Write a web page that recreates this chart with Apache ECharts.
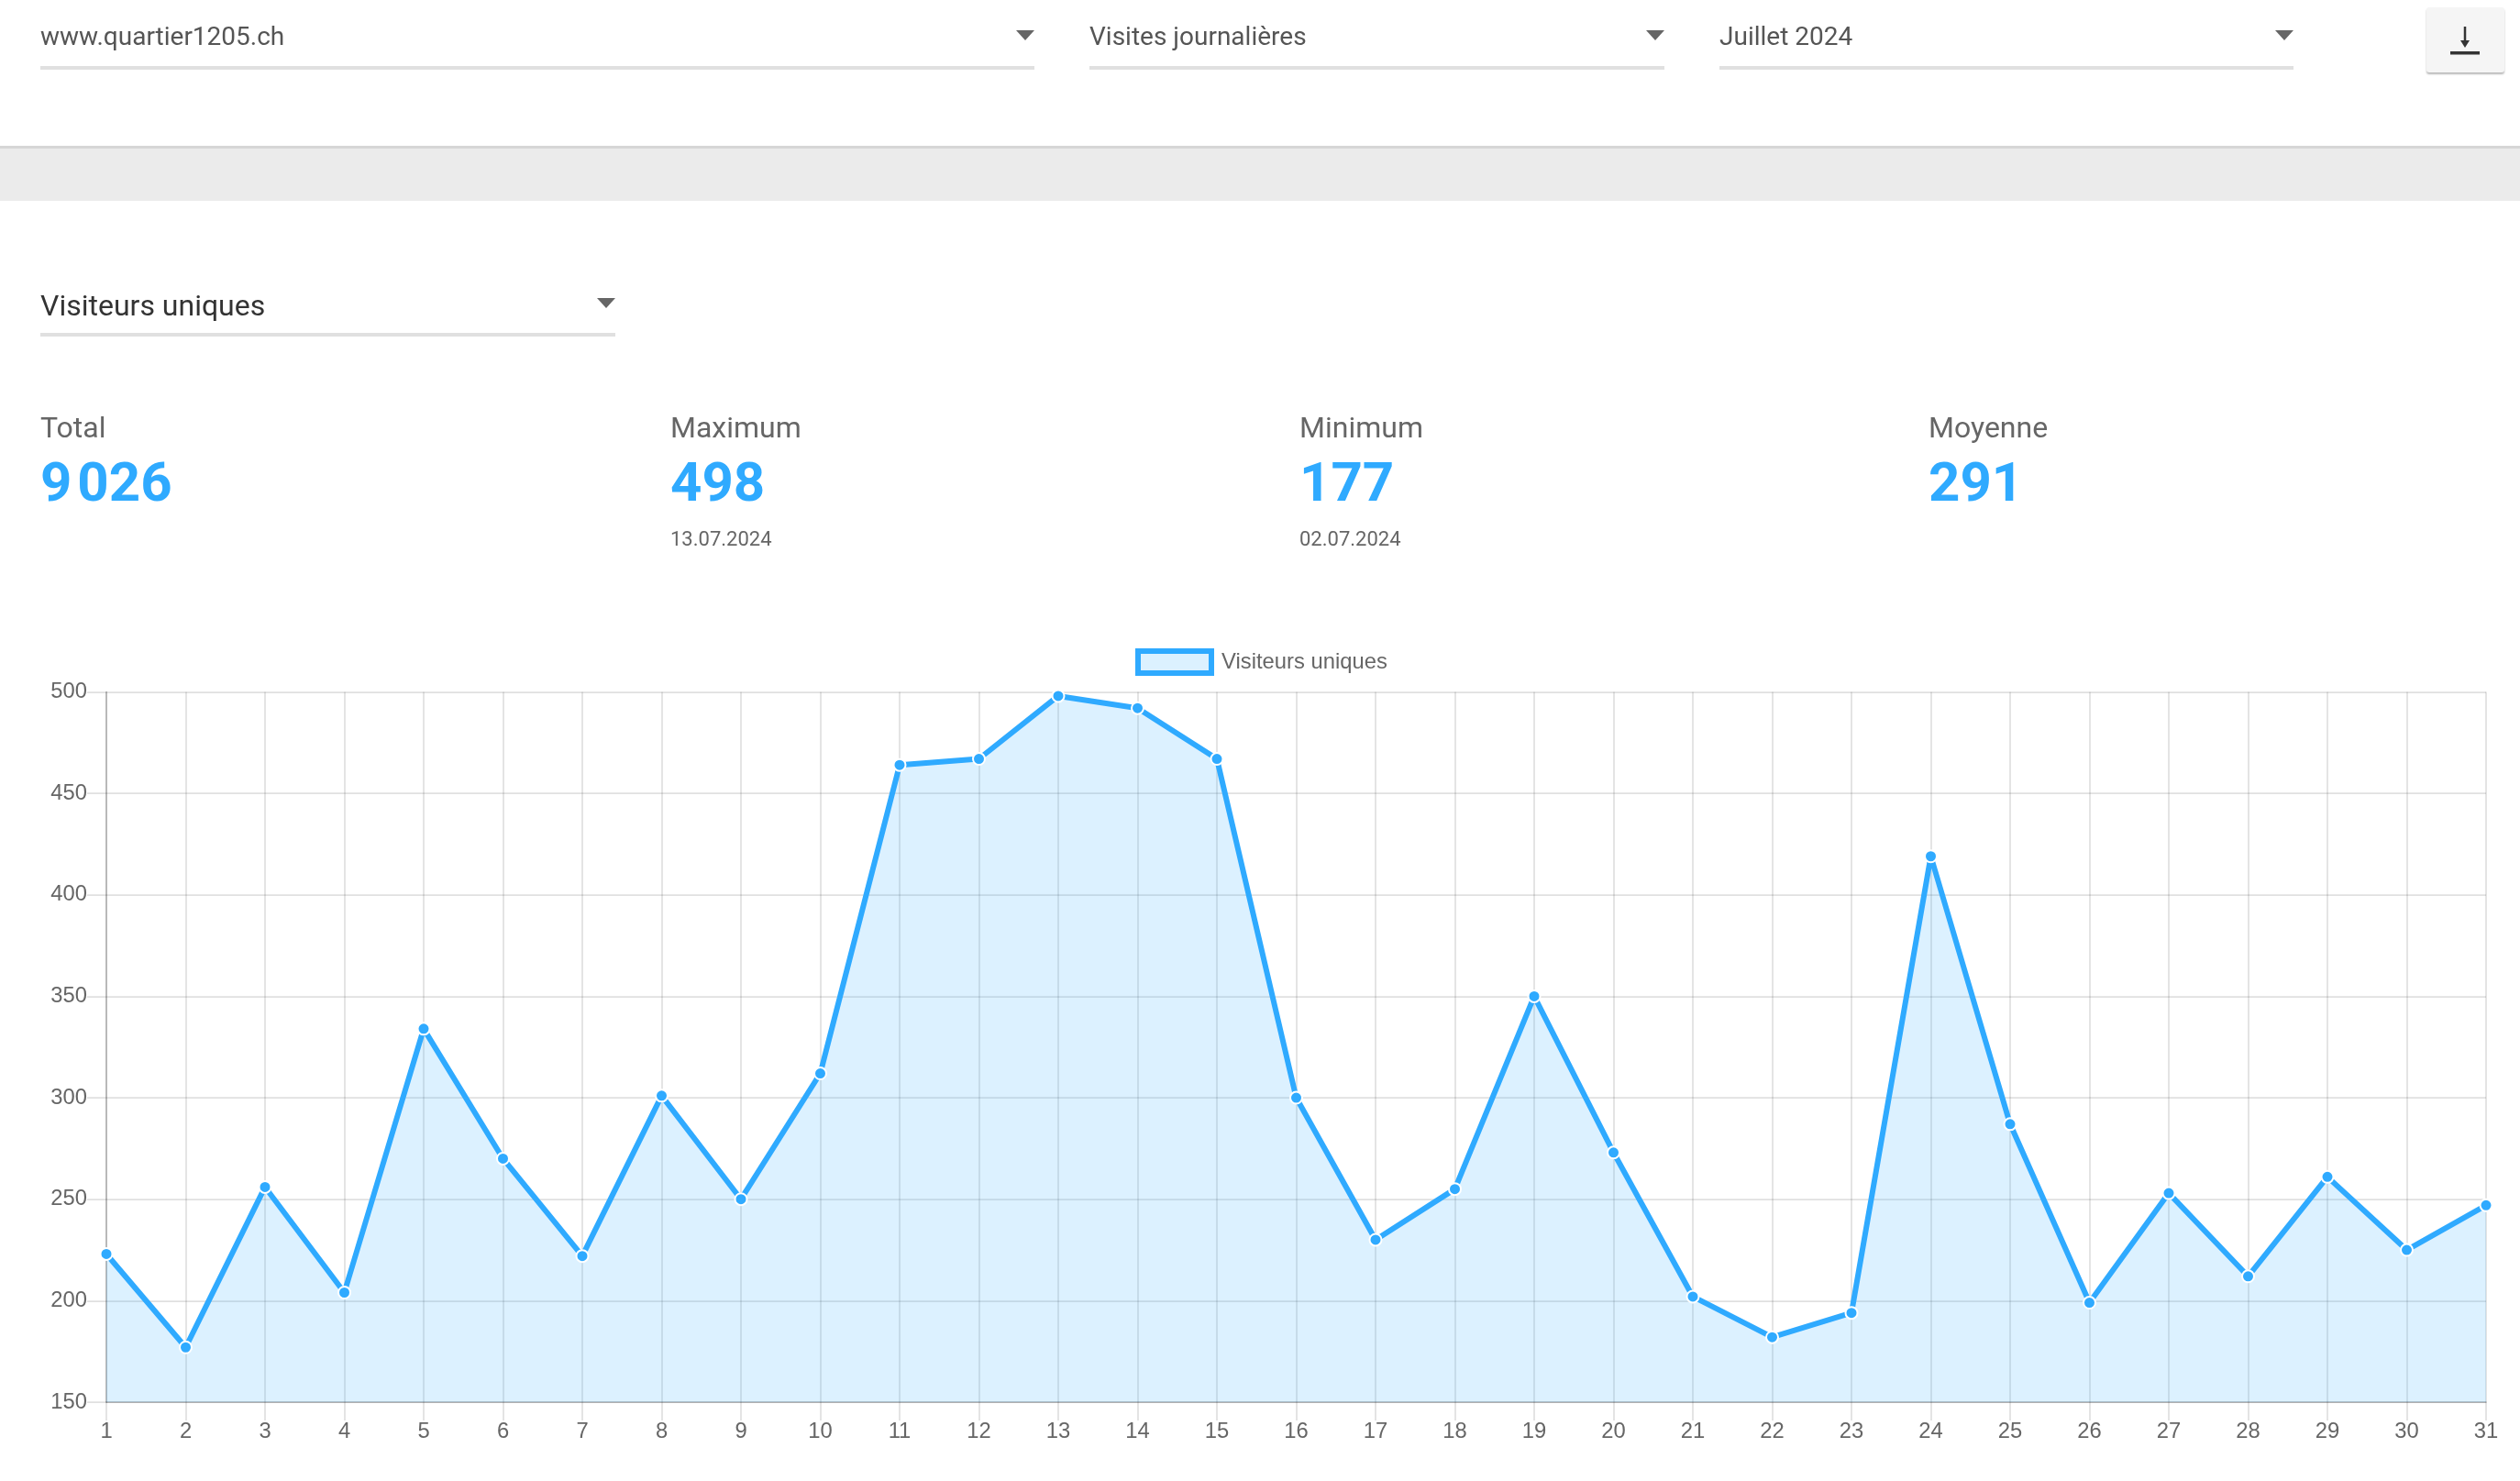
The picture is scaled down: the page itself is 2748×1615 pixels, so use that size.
<!DOCTYPE html>
<html lang="fr">
<head>
<meta charset="utf-8">
<title>Visiteurs uniques</title>
<script src="https://cdn.jsdelivr.net/npm/echarts@6/dist/echarts.min.js"></script>
<style>
html,body{margin:0;padding:0;width:2748px;height:1615px;overflow:hidden;background:#fff;font-family:Roboto,sans-serif}
#chart{position:absolute;left:0;top:0;width:2748px;height:1615px}
.t{position:absolute;white-space:pre;line-height:1}
.sel{position:absolute;height:4px;background:#e0e0e0}
.arrow{position:absolute;width:0;height:0;border-left:10px solid transparent;border-right:10px solid transparent;border-top:11px solid #666}
#band{position:absolute;left:0;top:159px;width:2748px;height:60px;background:#ebebeb;border-top:3px solid #d6d6d6;box-sizing:border-box}
#btn{position:absolute;left:2646px;top:8px;width:85px;height:71px;background:#f5f5f5;border-radius:3px;box-shadow:0 2px 2px rgba(0,0,0,.28)}
</style>
</head>
<body>
<div id="chart"></div>
<div id="ui"></div>
<script>
const seriesName = 'Visiteurs uniques';
const days = ['1','2','3','4','5','6','7','8','9','10','11','12','13','14','15','16','17','18','19','20','21','22','23','24','25','26','27','28','29','30','31'];
const visitors = [223,177,256,204,334,270,222,301,250,312,464,467,498,492,467,300,230,255,350,273,202,182,194,419,287,199,253,212,261,225,247];
const yMin = 150, yMax = 500, yStep = 50;
const topSelects = ['www.quartier1205.ch','Visites journalières','Juillet 2024'];
const kpiLabels = ['Total','Maximum','Minimum','Moyenne'];
const kpiValues = ['9 026','498','177','291'];
const kpiDates = ['','13.07.2024','02.07.2024',''];

const blue = '#2faaff', fill = 'rgba(47,170,255,0.17)', grid = 'rgba(0,0,0,0.12)', axis = 'rgba(0,0,0,0.22)', ink = '#666';

/* page furniture around the chart */
const ui = document.getElementById('ui');
function add(html){ ui.insertAdjacentHTML('beforeend', html); }
function text(x, cy, size, color, str, weight, extra){
  add(`<div class="t" style="left:${x}px;top:${cy-size/2}px;font-size:${size}px;color:${color};font-weight:${weight||400};${extra||''}">${str}</div>`);
}
function select(x0, x1, lineY, arrowY, size, color, str, cy){
  text(x0, cy, size, color, str);
  add(`<div class="sel" style="left:${x0}px;top:${lineY}px;width:${x1-x0}px"></div>`);
  add(`<div class="arrow" style="left:${x1-20}px;top:${arrowY}px"></div>`);
}
select(44,1128,72,33,28,'#555',topSelects[0],40);
select(1188,1815,72,33,28,'#555',topSelects[1],40);
select(1875,2501,72,33,28,'#555',topSelects[2],40);
select(44,671,363,325,32,'#333',seriesName,333);
add('<div id="band"></div>');
add(`<div id="btn"><svg width="85" height="71" style="position:absolute;left:0;top:0"><path d="M42 21V40" stroke="#333" stroke-width="2.5"/><path d="M37 36L42 44L47 36Z" fill="#333"/><rect x="26" y="48" width="32" height="3.500" fill="#333"/></svg></div>`);
[44,731,1417,2103].forEach((x,i)=>{
  text(x,466,32,'#666',kpiLabels[i]);
  text(x,526,60,blue,kpiValues[i],700,'word-spacing:-9px');
  if(kpiDates[i]) text(x,588,22,'#666',kpiDates[i]);
});

/* chart */
const chart = echarts.init(document.getElementById('chart'), null, {renderer:'canvas', width:2748, height:1615});
chart.setOption({
  animation:false,
  textStyle:{fontFamily:'"Liberation Sans",Arial,sans-serif'},
  legend:{
    left:1238, top:707, padding:0, itemWidth:80, itemHeight:24, selectedMode:false,
    data:[{name:seriesName, icon:'rect', itemStyle:{color:fill, borderColor:blue, borderWidth:6, opacity:1}}],
    textStyle:{fontSize:23.8, color:ink, fontFamily:'"Liberation Sans",Arial,sans-serif', padding:[0,0,0,6]}
  },
  grid:{left:116, right:37, top:754.5, height:774.5, containLabel:false},
  xAxis:{
    type:'category', data:days, boundaryGap:false,
    axisLine:{lineStyle:{color:axis,width:1.75}},
    axisTick:{show:true,length:20,interval:0,lineStyle:{color:grid,width:1.75}},
    axisLabel:{interval:0,margin:20,fontSize:23.8,color:ink},
    splitLine:{show:true,interval:0,lineStyle:{color:grid,width:1.75}}
  },
  yAxis:{
    type:'value', min:yMin, max:yMax, interval:yStep,
    axisLine:{show:true,lineStyle:{color:axis,width:1.75}},
    axisTick:{show:true,length:21,lineStyle:{color:grid,width:1.75}},
    axisLabel:{margin:21,fontSize:23.8,color:ink},
    splitLine:{show:true,lineStyle:{color:grid,width:1.75}}
  },
  series:[{
    name:seriesName, type:'line', data:visitors, smooth:false,
    symbol:'circle', symbolSize:13, showAllSymbol:true, clip:false,
    lineStyle:{color:blue,width:6},
    itemStyle:{color:blue,borderColor:'#fff',borderWidth:2},
    areaStyle:{color:fill,opacity:1,origin:'start'}
  }]
});
</script>
</body>
</html>
